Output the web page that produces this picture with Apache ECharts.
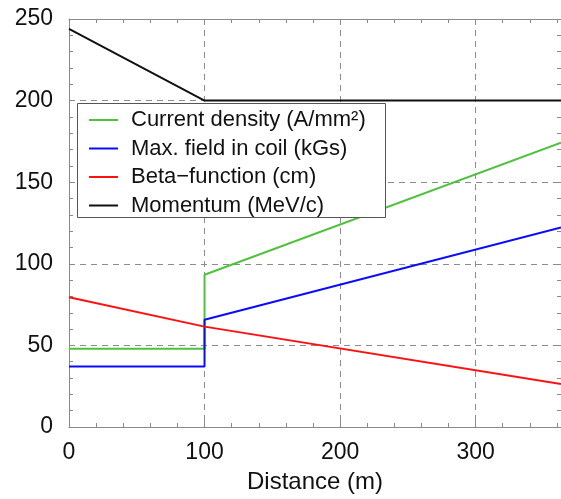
<!DOCTYPE html>
<html>
<head>
<meta charset="utf-8">
<script src="https://cdn.jsdelivr.net/npm/echarts@6/dist/echarts.min.js"></script>
<style>
  html, body { margin: 0; padding: 0; background: #fff; }
  #chart { width: 561px; height: 499px; }
</style>
</head>
<body>
<div id="chart"></div>
<script>
// Distance along the channel (m) and the quantities plotted against it
const currentX = [0, 100, 100, 363];
const currentY = [48, 48, 93.3, 174.2];

const fieldX = [0, 100, 100, 363];
const fieldY = [37, 37, 65.7, 122.2];

const betaX = [0, 100, 363];
const betaY = [79.5, 61.5, 26.3];

const momentumX = [0, 100, 363];
const momentumY = [244, 200, 200];

const seriesNames = [
  'Current density (A/mm²)',
  'Max. field in coil (kGs)',
  'Beta\u2212function (cm)',
  'Momentum (MeV/c)'
];
const seriesColors = ['#4ec23c', '#0a0aff', '#ff1010', '#111111'];

const xTicks = [0, 100, 200, 300];
const yTicks = [0, 50, 100, 150, 200, 250];

function pairs(xs, ys) {
  return xs.map((x, i) => [x, ys[i]]);
}

const FONT = 'Liberation Sans, Arial, sans-serif';
const axisGray = '#8a8a8a';

const chart = echarts.init(document.getElementById('chart'), null, { renderer: 'canvas' });

const baseX = {
  type: 'value',
  min: 0,
  max: 363,
  interval: 100,
  axisLine: { show: true, onZero: false, lineStyle: { color: axisGray, width: 1 } },
  axisTick: { show: true, inside: true, length: 6, lineStyle: { color: axisGray } },
  minorTick: { show: true, splitNumber: 5, length: 4, lineStyle: { color: axisGray } },
  splitLine: { show: false }
};
const baseY = {
  type: 'value',
  min: 0,
  max: 250,
  interval: 50,
  axisLine: { show: true, onZero: false, lineStyle: { color: axisGray, width: 1 } },
  axisTick: { show: true, inside: true, length: 6, lineStyle: { color: axisGray } },
  minorTick: { show: true, splitNumber: 5, length: 4, lineStyle: { color: axisGray } },
  splitLine: { show: false }
};

const lineData = [
  pairs(currentX, currentY),
  pairs(fieldX, fieldY),
  pairs(betaX, betaY),
  pairs(momentumX, momentumY)
];

chart.setOption({
  backgroundColor: '#ffffff',
  animation: false,
  textStyle: { fontFamily: FONT },
  grid: { left: 69, right: 0, top: 19, bottom: 68, containLabel: false },
  xAxis: [
    Object.assign({}, baseX, {
      position: 'bottom',
      name: 'Distance (m)',
      nameLocation: 'middle',
      nameGap: 43,
      nameTextStyle: { fontSize: 24, color: '#111', fontFamily: FONT },
      axisLabel: {
        show: true, margin: 14, fontSize: 23, color: '#111', fontFamily: FONT,
        customValues: xTicks
      },
      splitLine: { show: true, lineStyle: { color: '#8c8c8c', type: [6, 5], width: 1 } }
    }),
    Object.assign({}, baseX, {
      position: 'top',
      axisLabel: { show: false }
    })
  ],
  yAxis: [
    Object.assign({}, baseY, {
      position: 'left',
      axisLabel: {
        show: true, margin: 16, fontSize: 23, color: '#111', fontFamily: FONT,
        customValues: yTicks
      },
      splitLine: { show: true, lineStyle: { color: '#8c8c8c', type: [6, 5], width: 1 } }
    }),
    Object.assign({}, baseY, {
      position: 'right',
      axisLabel: { show: false }
    })
  ],
  graphic: [
    {
      type: 'rect',
      z: 10,
      shape: { x: 77.5, y: 103.5, width: 308, height: 114 },
      style: { fill: '#ffffff', stroke: '#555555', lineWidth: 1 }
    }
  ],
  legend: {
    z: 20,
    orient: 'vertical',
    left: 89,
    top: 109,
    padding: 0,
    itemGap: 6.5,
    itemWidth: 29,
    itemHeight: 2,
    icon: 'rect',
    selectedMode: false,
    data: seriesNames,
    textStyle: {
      fontSize: 22,
      color: '#111',
      fontFamily: FONT,
      padding: [0, 0, 0, 8]
    }
  },
  series: seriesNames.map((name, i) => ({
    name: name,
    type: 'line',
    data: lineData[i],
    showSymbol: false,
    symbol: 'none',
    clip: true,
    z: 3,
    lineStyle: { color: seriesColors[i], width: 2 },
    itemStyle: { color: seriesColors[i] }
  }))
});
</script>
</body>
</html>
